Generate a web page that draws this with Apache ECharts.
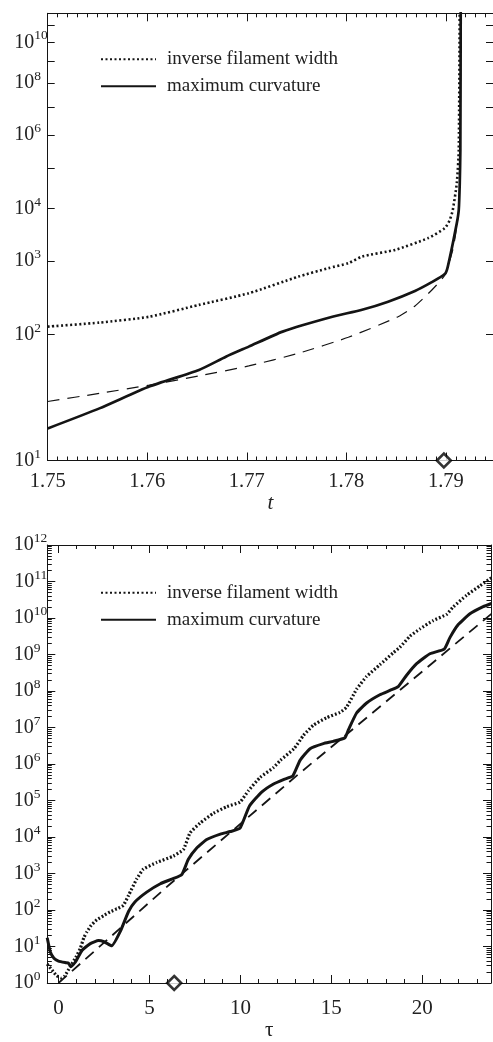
<!DOCTYPE html>
<html><head><meta charset="utf-8">
<script src="https://cdn.jsdelivr.net/npm/echarts@6/dist/echarts.min.js"></script>
<style>html,body{margin:0;padding:0;background:#fff}#c{width:493px;height:1042px}</style>
</head><body><div id="c"></div>
<script>
// ---------- data: top panel (t, value) ----------
const topT_width = [1.750,1.7552,1.7602,1.7652,1.7702,1.7752,1.7782,1.7802,1.7816,1.7849,1.7882,1.7899,1.7904,1.7907,1.7911,1.7913,1.7914];
const topV_width = [123,137,161,227,325,566,765,918,1190,1545,2520,3930,5780,9400,4e4,3.4e5,1e13];
const topT_curv = [1.750,1.7552,1.7602,1.7652,1.7679,1.7702,1.7736,1.7786,1.7815,1.7842,1.7869,1.7885,1.7899,1.7902,1.7911,1.7913,1.7914,1.79146,1.7915];
const topV_curv = [15.6,21.5,31.8,44.3,59,74.5,108,161,195,250,350,460,620,811,4900,9400,4e4,3.4e5,1e13];
const topT_fit = [1.750,1.7552,1.7602,1.7652,1.7702,1.7752,1.7802,1.7852,1.7869,1.7886,1.7899,1.7907,1.7910,1.7913,1.79145,1.7915];
const topV_fit = [24.2,28,32.7,39.2,48.2,63.8,93.5,161,220,361,600,1550,3140,1e4,3e5,1e13];
const topMarker = [1.7898, 10];

// ---------- data: bottom panel (tau, value) ----------
const botTau_width = [-0.62,-0.35,-0.1,0.15,0.35,0.64,0.95,1.2,1.4,1.56,1.8,2.11,2.5,2.84,3.2,3.57,3.85,4.3,4.67,5.4,6.32,6.87,7.23,7.78,8.52,9.25,9.98,10.44,11.08,11.81,12.2,12.95,13.46,14.01,14.74,15.48,15.84,16.39,16.94,17.67,18.41,18.77,19.32,19.87,20.6,21.34,21.7,22.44,23.17,23.8];
const botVal_width = [3.3,2.24,1.58,1.38,1.58,2.8,5.0,8.9,17.8,25,38,54,71,89,107,135,251,708,1320,2000,3020,4570,1.29e4,2.4e4,4.47e4,6.76e4,9.1e4,1.86e5,4.27e5,7.9e5,1.26e6,2.63e6,6.0e6,1.15e7,1.86e7,2.6e7,3.6e7,1.12e8,2.5e8,5.25e8,1.12e9,1.58e9,3.16e9,5.0e9,8.5e9,1.26e10,2.0e10,4.2e10,7.6e10,1.26e11];
const botTau_curv = [-0.62,-0.45,-0.25,0,0.4,0.55,0.68,0.92,1.3,1.75,2.2,2.5,2.93,3.4,3.85,4.2,4.85,5.6,6.3,6.78,7.14,7.6,8.15,8.9,9.45,9.98,10.5,11.17,11.8,12.4,12.88,13.28,13.83,14.56,15.1,15.75,15.95,16.39,16.94,17.67,18.25,18.68,19.14,19.69,20.42,21.21,21.52,21.98,22.62,23.35,23.8];
const botVal_curv = [17.4,7.1,4.8,4.0,3.6,3.5,2.8,3.7,7.9,12,14.5,13.5,10.5,26,91,166,309,525,724,933,2450,5010,8510,1.2e4,1.41e4,1.74e4,7.1e4,1.7e5,2.8e5,3.8e5,4.7e5,1.26e6,2.63e6,3.63e6,4.17e6,5.25e6,8.9e6,2.5e7,4.7e7,7.9e7,1.05e8,1.32e8,2.7e8,5.6e8,1.05e9,1.41e9,2.9e9,6.6e9,1.3e10,2.04e10,2.5e10];
const botTau_fit = [0, 6.2, 13.1, 19.3, 23.8];
const botVal_fit = [1.0, 550, 4.8e5, 1.75e8, 1.3e10];
const botMarker = [6.36, 1];

// ---------- ticks / labels ----------
const topXLabels = [1.75, 1.76, 1.77, 1.78, 1.79];
const topYLabelPowers = [1, 2, 3, 4, 6, 8, 10];
const topYTickPowers = [1, 2, 3, 4, 5, 6, 7, 8, 9, 10, 11];
const botXLabels = [0, 5, 10, 15, 20];
const botXMinor = [0,1,2,3,4,5,6,7,8,9,10,11,12,13,14,15,16,17,18,19,20,21,22,23];
const botYLabelPowers = [0,1,2,3,4,5,6,7,8,9,10,11,12];
const legendNames = ['inverse filament width', 'maximum curvature'];

const FONT = 'Liberation Serif';
const INK = '#141414';
const TXT = '#222';

// scales: top panel uses log(log(y)), bottom panel log(y)
const LL = v => Math.log10(Math.log10(v));
const L = v => Math.log10(v);

const topXMinor = [];
for (let i = 0; i <= 45; i++) topXMinor.push(+(1.75 + i * 0.001).toFixed(3));
const botYMinor = [];
for (let n = 0; n < 12; n++) for (let k = 2; k <= 9; k++) botYMinor.push(Math.log10(k * Math.pow(10, n)));

const topRange = { xmin: 1.75, xmax: 1.79474, ymin: 0, ymax: 1.0694 };
const botRange = { xmin: -0.616, xmax: 23.78, ymin: 0, ymax: 12 };

const rich = {
  b: { fontFamily: FONT, fontSize: 20, color: TXT, lineHeight: 27 },
  s: { fontFamily: FONT, fontSize: 13.5, color: TXT, lineHeight: 13, verticalAlign: 'top' },
  s1: { fontFamily: FONT, fontSize: 13.5, color: TXT, lineHeight: 13, verticalAlign: 'top', padding: [0, 6.8, 0, 0] }
};
function pow10Label(p) {
  return '{b|10}{' + (String(p).length > 1 ? 's' : 's1') + '|' + p + '}';
}

function axis(dim, gi, pos, r, ticks, len, lineShow, extra) {
  const a = {
    type: 'value', gridIndex: gi, position: pos,
    min: dim === 'x' ? r.xmin : r.ymin, max: dim === 'x' ? r.xmax : r.ymax,
    axisLine: { show: lineShow, onZero: false, lineStyle: { color: INK, width: 1 } },
    axisTick: { show: true, inside: true, length: len, customValues: ticks, lineStyle: { color: INK, width: 1 } },
    axisLabel: { show: false },
    splitLine: { show: false },
    silent: true
  };
  return Object.assign(a, extra || {});
}

const xAxes = [
  axis('x', 0, 'bottom', topRange, topXLabels, 8, true, {
    axisLabel: { show: true, customValues: topXLabels, formatter: v => v.toFixed(2), margin: 11,
      fontFamily: FONT, fontSize: 20.5, color: TXT, lineHeight: 21 },
    name: 't', nameLocation: 'middle', nameGap: 30,
    nameTextStyle: { fontFamily: FONT, fontStyle: 'italic', fontSize: 21, color: TXT }
  }),
  axis('x', 0, 'bottom', topRange, topXMinor, 4, false),
  axis('x', 0, 'top', topRange, topXLabels, 8, true),
  axis('x', 0, 'top', topRange, topXMinor, 4, false),
  axis('x', 1, 'bottom', botRange, botXLabels, 8, true, {
    axisLabel: { show: true, customValues: botXLabels, formatter: v => String(Math.round(v)), margin: 15,
      fontFamily: FONT, fontSize: 21, color: TXT, lineHeight: 21 },
    name: 'τ', nameLocation: 'middle', nameGap: 37,
    nameTextStyle: { fontFamily: FONT, fontSize: 21, color: TXT }
  }),
  axis('x', 1, 'bottom', botRange, botXMinor, 4, false),
  axis('x', 1, 'top', botRange, botXLabels, 8, true),
  axis('x', 1, 'top', botRange, botXMinor, 4, false)
];

const topYTicks = topYTickPowers.map(p => LL(Math.pow(10, p)));
const topYLab = topYLabelPowers.map(p => Math.log10(p));
const botYMajor = botYLabelPowers.slice();

const yAxes = [
  axis('y', 0, 'left', topRange, topYTicks, 7, true, {
    axisLabel: { show: true, customValues: topYLab, margin: 0,
      formatter: v => pow10Label(Math.round(Math.pow(10, v))), rich: rich }
  }),
  axis('y', 0, 'right', topRange, topYTicks, 7, true),
  axis('y', 1, 'left', botRange, botYMajor, 8, true, {
    axisLabel: { show: true, customValues: botYMajor, margin: 0,
      formatter: v => pow10Label(Math.round(v)), rich: rich }
  }),
  axis('y', 1, 'left', botRange, botYMinor, 4.5, false),
  axis('y', 1, 'right', botRange, botYMajor, 8, true),
  axis('y', 1, 'right', botRange, botYMinor, 4.5, false)
];

function pairs(xs, ys, f) { return xs.map((x, i) => [x, f(ys[i])]); }

const dotStyle = (w, d) => ({ color: INK, width: w, type: d, cap: 'butt' });

const markerStyle = { color: '#fff', borderColor: '#000', borderWidth: 2.6 };

const series = [
  { name: 'fit', type: 'line', xAxisIndex: 0, yAxisIndex: 0, data: pairs(topT_fit, topV_fit, LL), color: INK,
    symbol: 'none', smooth: 0.2, lineStyle: { color: INK, width: 1.2, type: [12, 8] }, silent: true },
  { name: legendNames[0], type: 'line', xAxisIndex: 0, yAxisIndex: 0, data: pairs(topT_width, topV_width, LL), color: INK,
    symbol: 'none', smooth: 0.2, lineStyle: dotStyle(2.6, [2, 2.5]), silent: true },
  { name: legendNames[1], type: 'line', xAxisIndex: 0, yAxisIndex: 0, data: pairs(topT_curv, topV_curv, LL), color: INK,
    symbol: 'none', smooth: 0.2, lineStyle: { color: INK, width: 2.7 }, silent: true },
  { name: 'marker', type: 'scatter', xAxisIndex: 0, yAxisIndex: 0, data: [[topMarker[0], LL(topMarker[1])]],
    symbol: 'diamond', symbolSize: [14, 14], clip: false,
    itemStyle: markerStyle, silent: true, z: 5 },

  { name: 'fit', type: 'line', xAxisIndex: 4, yAxisIndex: 2, data: pairs(botTau_fit, botVal_fit, L), color: INK,
    symbol: 'none', lineStyle: { color: INK, width: 1.8, type: [11, 7] }, silent: true },
  { name: legendNames[0], type: 'line', xAxisIndex: 4, yAxisIndex: 2, data: pairs(botTau_width, botVal_width, L), color: INK,
    symbol: 'none', smooth: 0.15, lineStyle: dotStyle(3.2, [1.8, 2]), silent: true },
  { name: legendNames[1], type: 'line', xAxisIndex: 4, yAxisIndex: 2, data: pairs(botTau_curv, botVal_curv, L), color: INK,
    symbol: 'none', smooth: 0.15, lineStyle: { color: INK, width: 3 }, silent: true },
  { name: 'marker', type: 'scatter', xAxisIndex: 4, yAxisIndex: 2, data: [[botMarker[0], L(botMarker[1])]],
    symbol: 'diamond', symbolSize: [14, 14], clip: false,
    itemStyle: markerStyle, silent: true, z: 5 }
];

const legendBase = {
  data: legendNames, orient: 'vertical', left: 95, itemWidth: 55, itemHeight: 14, itemGap: 8,
  selectedMode: false,
  itemStyle: { color: 'rgba(0,0,0,0)', borderColor: 'rgba(0,0,0,0)', borderWidth: 0, opacity: 0 },
  textStyle: { fontFamily: FONT, fontSize: 19, color: TXT, lineHeight: 19, padding: [0, 0, 0, 6] }
};

const option = {
  animation: false,
  backgroundColor: '#fff',
  grid: [
    { left: 47.7, top: 13.3, width: 446.3, height: 447.2 },
    { left: 47.3, top: 545, width: 443.7, height: 447.7 }
  ],
  xAxis: xAxes,
  yAxis: yAxes,
  legend: [
    Object.assign({}, legendBase, { top: 44.8 }),
    Object.assign({}, legendBase, { top: 578.2 })
  ],
  series: series
};

const chart = echarts.init(document.getElementById('c'), null, { renderer: 'canvas' });
chart.setOption(option);
</script>
</body></html>
